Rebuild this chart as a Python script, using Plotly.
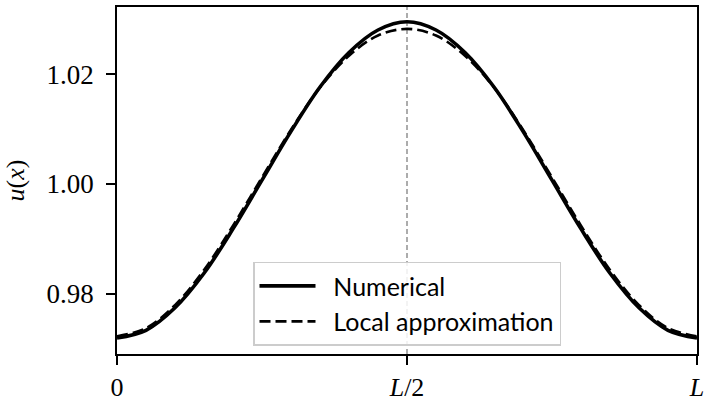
import plotly.graph_objects as go

# Position along the domain, as a fraction of the length L
x_frac = [0.00, 0.05, 0.10, 0.15, 0.20, 0.25, 0.30, 0.35, 0.40, 0.45, 0.50,
          0.55, 0.60, 0.65, 0.70, 0.75, 0.80, 0.85, 0.90, 0.95, 1.00]

# Numerical solution u(x)
u_numerical = [0.9719, 0.9733, 0.9774, 0.9837, 0.9918, 1.0007, 1.0096, 1.0177,
               1.0240, 1.0281, 1.0296, 1.0281, 1.0240, 1.0177, 1.0096, 1.0007,
               0.9918, 0.9837, 0.9774, 0.9733, 0.9719]

# Local approximation of u(x)
u_local = [0.9722, 0.9737, 0.9779, 0.9843, 0.9924, 1.0012, 1.0099, 1.0176,
           1.0234, 1.0271, 1.0283, 1.0271, 1.0234, 1.0176, 1.0099, 1.0012,
           0.9924, 0.9843, 0.9779, 0.9737, 0.9722]

x_tick_vals = [0.0, 0.5, 1.0]
x_tick_text = ["0", "<i>L</i>/2", "<i>L</i>"]
y_tick_vals = [0.98, 1.00, 1.02]
y_tick_text = ["0.98", "1.00", "1.02"]

mid_x = x_tick_vals[1]

serif = "Liberation Serif"
sans = "Lato"
pad = "\u00a0\u00a0"

fig = go.Figure()
fig.add_trace(go.Scatter(
    x=x_frac, y=u_numerical, mode="lines", name=pad + "Numerical", legendgroup="num",
    line=dict(color="black", width=3.6, shape="spline", smoothing=1.0),
))
fig.add_trace(go.Scatter(
    x=x_frac, y=u_local, mode="lines", name=pad + "Local approximation", legendgroup="loc",
    line=dict(color="black", width=2.6, dash="11px,5px", shape="spline", smoothing=1.0),
))

# Dashed guide at the midpoint
fig.add_shape(type="line", xref="x", yref="paper", x0=mid_x, x1=mid_x, y0=0, y1=1,
              line=dict(color="#808080", width=1.3, dash="5px,3px"), layer="below")

fig.update_layout(
    width=709, height=407,
    margin=dict(l=117, r=12, t=5, b=50),
    plot_bgcolor="white", paper_bgcolor="white",
    showlegend=True,
    legend=dict(
        x=0.5, xanchor="center", y=0.024, yanchor="bottom",
        bgcolor="rgba(255,255,255,0.85)", bordercolor="#cccccc", borderwidth=1.5,
        font=dict(family=sans, size=25, color="black"),
        itemwidth=56, tracegroupgap=0,
    ),
)

fig.update_xaxes(
    range=[0, 1], tickmode="array", tickvals=x_tick_vals, ticktext=x_tick_text,
    showgrid=False, zeroline=False, showline=True, linecolor="black", linewidth=1.5,
    mirror=True, ticks="outside", ticklen=9, tickwidth=1.5, tickcolor="black",
    tickfont=dict(family=serif, size=26, color="black"),
)
fig.update_yaxes(
    range=[0.96897, 1.0323], tickmode="array", tickvals=y_tick_vals, ticktext=y_tick_text,
    showgrid=False, zeroline=False, showline=True, linecolor="black", linewidth=1.5,
    mirror=True, ticks="outside", ticklen=9, tickwidth=1.5, tickcolor="black",
    tickfont=dict(family=serif, size=27, color="black"), ticklabelstandoff=7,
    title=dict(text="<i>u</i>(<i>x</i>)", font=dict(family=serif, size=26, color="black"),
               standoff=14),
)

fig.write_html("out.html")
